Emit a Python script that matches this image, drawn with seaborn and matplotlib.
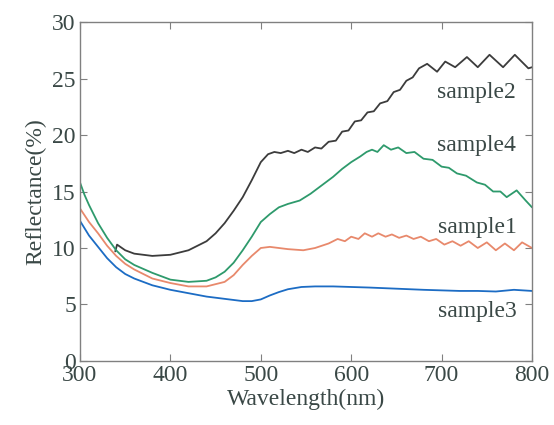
import numpy as np
import pandas as pd
import matplotlib
matplotlib.use("Agg")
import matplotlib.pyplot as plt
import seaborn as sns

# ---- data ----
w_sample3 = [300, 310, 320, 330, 340, 350, 360, 380, 400, 420, 440, 460, 480, 490, 500,
             510, 520, 530, 545, 560, 580, 600, 620, 650, 680, 700, 720, 740, 760, 780, 800]
r_sample3 = [12.4, 11.1, 10.1, 9.1, 8.3, 7.7, 7.3, 6.7, 6.3, 6.0, 5.7, 5.5, 5.3, 5.3, 5.45,
             5.8, 6.1, 6.35, 6.55, 6.6, 6.6, 6.55, 6.5, 6.4, 6.3, 6.25, 6.2, 6.2, 6.15, 6.3, 6.2]

w_sample1 = [300, 310, 320, 330, 340, 350, 360, 380, 400, 420, 440, 460, 470, 480, 490, 500,
             510, 520, 530, 547, 560, 575, 585, 593, 600, 608, 615, 623, 630, 638, 645, 653,
             661, 669, 677, 686, 694, 703, 712, 721, 730, 740, 750, 760, 770, 780, 789, 800]
r_sample1 = [13.5, 12.3, 11.3, 10.2, 9.3, 8.6, 8.1, 7.3, 6.9, 6.6, 6.6, 7.0, 7.6, 8.5, 9.3, 10.0,
             10.1, 10.0, 9.9, 9.8, 10.0, 10.4, 10.8, 10.6, 11.0, 10.8, 11.3, 11.0, 11.3, 11.0, 11.2, 10.9,
             11.1, 10.8, 11.0, 10.6, 10.8, 10.3, 10.6, 10.2, 10.6, 10.0, 10.5, 9.8, 10.4, 9.8, 10.5, 10.0]

w_sample4 = [300, 305, 310, 320, 330, 340, 350, 360, 380, 400, 420, 440, 450, 460, 470, 480,
             490, 500, 510, 520, 530, 543, 555, 565, 580, 590, 600, 610, 617, 623, 629, 636,
             644, 652, 661, 670, 680, 690, 700, 708, 717, 727, 739, 748, 757, 765, 772, 783,
             793, 800]
r_sample4 = [15.8, 14.7, 13.8, 12.2, 10.9, 9.8, 9.0, 8.5, 7.8, 7.2, 7.0, 7.1, 7.4, 7.9, 8.7, 9.8,
             11.0, 12.3, 13.0, 13.6, 13.9, 14.2, 14.8, 15.4, 16.3, 17.0, 17.6, 18.1, 18.5, 18.7, 18.5, 19.1,
             18.7, 18.9, 18.4, 18.5, 17.9, 17.8, 17.2, 17.1, 16.6, 16.4, 15.8, 15.6, 15.0, 15.0, 14.5, 15.1,
             14.2, 13.6]

w_sample2 = [339, 341, 350, 360, 380, 400, 420, 440, 450, 460, 470, 480, 490, 500, 508, 515,
             522, 530, 537, 545, 552, 560, 567, 575, 583, 590, 597, 604, 611, 618, 625, 632,
             640, 647, 654, 661, 668, 675, 684, 695, 704, 715, 728, 740, 753, 768, 781, 796, 800]
r_sample2 = [9.7, 10.3, 9.8, 9.5, 9.3, 9.4, 9.8, 10.6, 11.3, 12.2, 13.3, 14.5, 16.0, 17.6, 18.3, 18.5,
             18.4, 18.6, 18.4, 18.7, 18.5, 18.9, 18.8, 19.4, 19.5, 20.3, 20.4, 21.2, 21.3, 22.0, 22.1, 22.8,
             23.0, 23.8, 24.0, 24.8, 25.1, 25.9, 26.3, 25.6, 26.5, 26.0, 26.9, 26.0, 27.1, 26.0, 27.1, 25.9, 26.0]

series_names = ["sample3", "sample1", "sample4", "sample2"]
series_colors = {"sample3": "#1c6cc4", "sample1": "#e8896c", "sample4": "#2e9a6c", "sample2": "#3c3c3c"}
label_pos = {"sample2": (738, 23.8), "sample4": (738, 19.1), "sample1": (740, 11.8), "sample3": (740, 4.4)}

x_ticks = [300, 400, 500, 600, 700, 800]
y_ticks = [0, 5, 10, 15, 20, 25, 30]

data = {
    "sample3": (w_sample3, r_sample3),
    "sample1": (w_sample1, r_sample1),
    "sample4": (w_sample4, r_sample4),
    "sample2": (w_sample2, r_sample2),
}

frames = []
for name in series_names:
    w, r = data[name]
    frames.append(pd.DataFrame({"Wavelength": w, "Reflectance": r, "sample": name}))
df = pd.concat(frames, ignore_index=True)

sns.set_theme(style="ticks")
plt.rcParams["font.family"] = ["Liberation Serif", "DejaVu Serif"]
text_color = "#3a4846"
spine_color = "#808080"

fig = plt.figure(figsize=(5.54, 4.25), dpi=100)
ax = fig.add_axes([0.1444, 0.1506, 0.8159, 0.7976])

for name in ["sample2", "sample3", "sample1", "sample4"]:
    sub = df[df["sample"] == name]
    sns.lineplot(data=sub, x="Wavelength", y="Reflectance", ax=ax, color=series_colors[name],
                 linewidth=1.3, sort=True, estimator=None, legend=False)

ax.set_xlim(300, 800)
ax.set_ylim(0, 30)
ax.set_xticks(x_ticks)
ax.set_yticks(y_ticks)
ax.tick_params(direction="in", length=5, width=0.8, color=spine_color, top=True, right=True,
               labelsize=17, labelcolor=text_color, pad=3)
for s in ax.spines.values():
    s.set_color(spine_color)
    s.set_linewidth(1.0)

ax.set_xlabel("Wavelength(nm)", fontsize=17, color=text_color, labelpad=2)
ax.set_ylabel("Reflectance(%)", fontsize=17, color=text_color, labelpad=4)

for name, (lx, ly) in label_pos.items():
    ax.text(lx, ly, name, fontsize=17, color=text_color, ha="center", va="center")

fig.savefig("out.png", dpi=100)
